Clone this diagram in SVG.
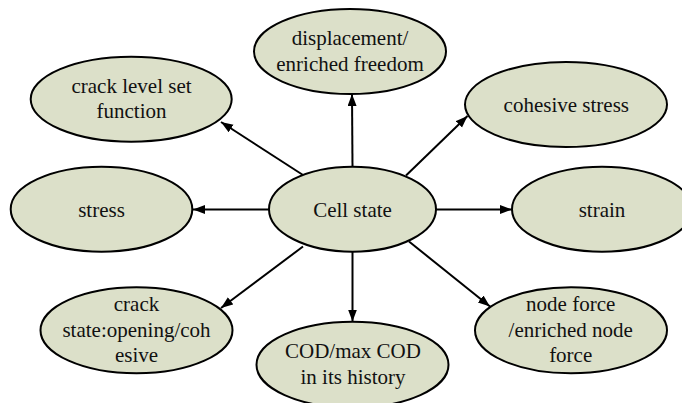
<svg xmlns="http://www.w3.org/2000/svg" width="682" height="403" viewBox="0 0 682 403">
<style>
.n ellipse{fill:#dce0c9;stroke:#000;stroke-width:2}
.n text{font-family:'Liberation Serif','Times New Roman',serif;font-size:21px;fill:#111;text-anchor:middle}
.e line{stroke:#000;stroke-width:2}
</style>
<defs>
<marker id="ah" markerUnits="userSpaceOnUse" markerWidth="13" markerHeight="10" refX="12" refY="4.5" orient="auto">
<path d="M0,0 L12,4.5 L0,9 z" fill="#000"/>
</marker>
</defs>
<rect width="682" height="403" fill="#fff"/>
<g class="e" id="edges">
<line x1="303" y1="175" x2="221" y2="122" marker-end="url(#ah)"/>
<line x1="352.5" y1="167" x2="352" y2="94" marker-end="url(#ah)"/>
<line x1="406" y1="175.5" x2="467.5" y2="116" marker-end="url(#ah)"/>
<line x1="269" y1="209.5" x2="193" y2="209.5" marker-end="url(#ah)"/>
<line x1="436" y1="209.5" x2="512" y2="209.5" marker-end="url(#ah)"/>
<line x1="303" y1="246.5" x2="221" y2="308" marker-end="url(#ah)"/>
<line x1="352.5" y1="252" x2="352.5" y2="321.5" marker-end="url(#ah)"/>
<line x1="409" y1="241.5" x2="490" y2="306.5" marker-end="url(#ah)"/>
</g>
<g class="n" id="displacement">
<ellipse cx="350" cy="51.5" rx="96" ry="42.5"/>
<text x="350" y="45">displacement/</text>
<text x="350" y="70.5">enriched freedom</text>
</g>
<g class="n" id="crack_level_set">
<ellipse cx="131.2" cy="99.2" rx="100.5" ry="42.5"/>
<text x="131.5" y="92.5">crack level set</text>
<text x="131.5" y="118">function</text>
</g>
<g class="n" id="cohesive_stress">
<ellipse cx="566" cy="104.5" rx="101" ry="42.5"/>
<text x="566.3" y="111.5">cohesive stress</text>
</g>
<g class="n" id="stress">
<ellipse cx="101.5" cy="209.2" rx="90.8" ry="42.5"/>
<text x="101.5" y="216.5">stress</text>
</g>
<g class="n" id="cell_state">
<ellipse cx="352.5" cy="209.2" rx="83.5" ry="42.5"/>
<text x="352.5" y="216.5">Cell state</text>
</g>
<g class="n" id="strain">
<ellipse cx="602" cy="209.2" rx="90" ry="42.5"/>
<text x="602" y="216.5">strain</text>
</g>
<g class="n" id="crack_state">
<ellipse cx="136.5" cy="330.3" rx="96" ry="43"/>
<text x="136.5" y="310.5">crack</text>
<text x="136.5" y="336.5">state:opening/coh</text>
<text x="136.5" y="362">esive</text>
</g>
<g class="n" id="node_force">
<ellipse cx="571" cy="330.3" rx="96" ry="43"/>
<text x="570.7" y="310.5">node force</text>
<text x="570.7" y="336.5">/enriched node</text>
<text x="570.7" y="362">force</text>
</g>
<g class="n" id="cod">
<ellipse cx="352.5" cy="364.7" rx="96" ry="43"/>
<text x="353" y="358">COD/max COD</text>
<text x="353" y="383.5">in its history</text>
</g>
</svg>
